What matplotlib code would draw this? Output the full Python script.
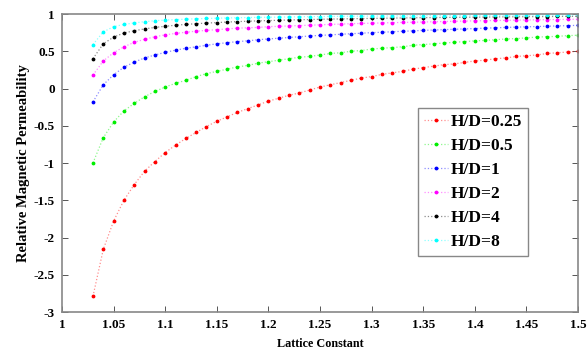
import matplotlib
matplotlib.use("Agg")
import matplotlib.pyplot as plt
from matplotlib.colors import to_rgba

# -------------------------
# Data
# -------------------------

lattice = [1.03, 1.04, 1.05, 1.06, 1.07, 1.08, 1.09, 1.10, 1.11, 1.12,
           1.13, 1.14, 1.15, 1.16, 1.17, 1.18, 1.19, 1.20, 1.21, 1.22,
           1.23, 1.24, 1.25, 1.26, 1.27, 1.28, 1.29, 1.30, 1.31, 1.32,
           1.33, 1.34, 1.35, 1.36, 1.37, 1.38, 1.39, 1.40, 1.41, 1.42,
           1.43, 1.44, 1.45, 1.46, 1.47, 1.48, 1.49, 1.50]

hd_025 = [-2.79, -2.16, -1.78, -1.50, -1.29, -1.11, -0.98, -0.86, -0.76, -0.67,
          -0.59, -0.51, -0.44, -0.38, -0.32, -0.27, -0.22, -0.17, -0.13, -0.09,
          -0.06, -0.02, 0.02, 0.05, 0.08, 0.11, 0.14, 0.16, 0.19, 0.21,
          0.23, 0.26, 0.28, 0.30, 0.32, 0.33, 0.35, 0.37, 0.38, 0.40,
          0.41, 0.43, 0.44, 0.45, 0.47, 0.48, 0.49, 0.50]

hd_05 = [-1.00, -0.66, -0.45, -0.30, -0.20, -0.11, -0.04, 0.02, 0.07, 0.11,
         0.16, 0.20, 0.23, 0.26, 0.29, 0.31, 0.34, 0.36, 0.38, 0.40,
         0.42, 0.43, 0.45, 0.47, 0.48, 0.50, 0.51, 0.53, 0.54, 0.55,
         0.56, 0.58, 0.59, 0.60, 0.61, 0.62, 0.63, 0.64, 0.645, 0.655,
         0.665, 0.67, 0.68, 0.69, 0.695, 0.70, 0.71, 0.715]

hd_1 = [-0.18, 0.05, 0.185, 0.285, 0.355, 0.41, 0.45, 0.485, 0.515, 0.54,
        0.56, 0.58, 0.60, 0.615, 0.63, 0.64, 0.655, 0.665, 0.675, 0.685,
        0.695, 0.705, 0.713, 0.72, 0.728, 0.735, 0.742, 0.75, 0.755, 0.762,
        0.768, 0.774, 0.78, 0.785, 0.79, 0.795, 0.80, 0.805, 0.81, 0.815,
        0.82, 0.824, 0.828, 0.832, 0.836, 0.84, 0.844, 0.848]

hd_2 = [0.18, 0.37, 0.48, 0.56, 0.62, 0.66, 0.695, 0.72, 0.74, 0.755,
        0.77, 0.78, 0.79, 0.80, 0.81, 0.815, 0.82, 0.83, 0.835, 0.84,
        0.845, 0.85, 0.855, 0.86, 0.865, 0.87, 0.873, 0.877, 0.88, 0.884,
        0.887, 0.89, 0.893, 0.896, 0.899, 0.902, 0.905, 0.908, 0.91, 0.913,
        0.915, 0.918, 0.92, 0.922, 0.924, 0.926, 0.928, 0.93]

hd_4 = [0.40, 0.60, 0.69, 0.745, 0.775, 0.80, 0.82, 0.835, 0.85, 0.86,
        0.87, 0.878, 0.885, 0.892, 0.898, 0.903, 0.908, 0.912, 0.916, 0.92,
        0.923, 0.926, 0.929, 0.932, 0.934, 0.937, 0.939, 0.941, 0.943, 0.945,
        0.947, 0.949, 0.951, 0.952, 0.954, 0.955, 0.957, 0.958, 0.959, 0.961,
        0.962, 0.963, 0.964, 0.965, 0.966, 0.967, 0.968, 0.969]

hd_8 = [0.59, 0.76, 0.83, 0.86, 0.88, 0.897, 0.91, 0.918, 0.925, 0.931,
        0.936, 0.94, 0.944, 0.947, 0.95, 0.953, 0.955, 0.957, 0.959, 0.961,
        0.963, 0.965, 0.966, 0.967, 0.969, 0.97, 0.971, 0.972, 0.973, 0.974,
        0.975, 0.976, 0.977, 0.977, 0.978, 0.979, 0.979, 0.98, 0.981, 0.981,
        0.982, 0.982, 0.983, 0.983, 0.984, 0.984, 0.985, 0.985]

labels = ["H/D=0.25", "H/D=0.5", "H/D=1", "H/D=2", "H/D=4", "H/D=8"]
series = [hd_025, hd_05, hd_1, hd_2, hd_4, hd_8]
colors = ["red", "#00ee00", "blue", "magenta", "black", "cyan"]

xticks = [1, 1.05, 1.1, 1.15, 1.2, 1.25, 1.3, 1.35, 1.4, 1.45, 1.5]
xticklabels = ["1", "1.05", "1.1", "1.15", "1.2", "1.25", "1.3", "1.35", "1.4", "1.45", "1.5"]
yticks = [-3, -2.5, -2, -1.5, -1, -0.5, 0, 0.5, 1]
yticklabels = ["-3", "-2.5", "-2", "-1.5", "-1", "-0.5", "0", "0.5", "1"]

# -------------------------
# Plot
# -------------------------

plt.rcParams["font.family"] = ["Liberation Serif", "DejaVu Serif"]
plt.rcParams["font.weight"] = "bold"

fig = plt.figure(figsize=(5.87, 3.52), dpi=100)
ax = fig.add_axes([0.1056, 0.1136, 0.8791, 0.8466])

for vals, lab, col in zip(series, labels, colors):
    ax.plot(lattice, vals, linestyle=":", linewidth=0.9,
            color=to_rgba(col, 0.45),
            marker=".", markersize=3.5,
            markerfacecolor=col, markeredgecolor=col,
            label=lab)

ax.set_xlim(1, 1.5)
ax.set_ylim(-3, 1)
ax.set_xticks(xticks)
ax.set_xticklabels(xticklabels, fontsize=9.5, fontweight="bold")
ax.set_yticks(yticks)
ax.set_yticklabels(yticklabels, fontsize=9.5, fontweight="bold")

ax.tick_params(direction="in", length=4, width=0.7, top=True, right=True,
               color="#555555", pad=5)
for sp in ax.spines.values():
    sp.set_color("#888888")
    sp.set_linewidth(1.2)

ax.set_xlabel("Lattice Constant", fontsize=8.7, fontweight="bold", labelpad=5)
ax.set_ylabel("Relative Magnetic Permeability", fontsize=10.5,
              fontweight="bold", labelpad=3)

leg = ax.legend(loc="upper left", bbox_to_anchor=(0.69, 0.685), borderaxespad=0,
                prop={"size": 12.5, "weight": "bold"}, handlelength=1.4,
                handletextpad=0.15, labelspacing=0.45, fancybox=False,
                framealpha=1, edgecolor="#888888", borderpad=0.35)
leg.get_frame().set_linewidth(1.0)

fig.savefig("out.png", dpi=100)
